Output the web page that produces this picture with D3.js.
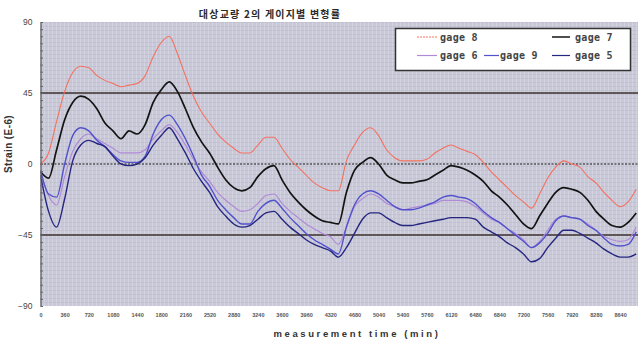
<!DOCTYPE html>
<html>
<head>
<meta charset="utf-8">
<script src="https://cdn.jsdelivr.net/npm/d3@7/dist/d3.min.js"></script>
<style>
  html, body { margin: 0; padding: 0; background: #fff; }
  svg { display: block; }
</style>
</head>
<body>
<div id="chart"></div>
<script>
// Strain readings every 120 minutes for the five gauges
const minutes = d3.range(0, 8881, 120);

const gage8 = [0, 7, 27, 46, 58, 62, 61, 56, 53, 51, 49, 50, 51, 56, 68, 77, 81, 70, 56, 43,
  33, 26, 19, 14, 10, 7, 7, 12, 17, 17, 10, 3, -2, -7, -12, -15, -17, -17, 2, 12,
  20, 23, 18, 9, 4, 2, 2, 2, 3, 7, 10, 12, 10, 8, 6, 1, -5, -10, -15, -20,
  -24, -28, -19, -9, -2, 2, 0, -2, -8, -12, -18, -23, -27, -24, -16];

const gage7 = [-5, -9, 9, 28, 39, 43, 41, 35, 26, 21, 16, 21, 19, 25, 39, 47, 52, 46, 35, 23,
  14, 7, -2, -10, -15, -17, -15, -8, -3, -1, -10, -18, -24, -29, -33, -36, -37, -38, -18, -4,
  1, 4, 0, -7, -10, -12, -12, -11, -10, -7, -4, -1, -2, -4, -7, -11, -17, -21, -26, -32,
  -38, -41, -33, -25, -18, -15, -16, -18, -23, -30, -35, -39, -40, -37, -31];

const gage6 = [-5, -20, -26, -8, 8, 16, 19, 16, 13, 10, 7, 7, 7, 9, 16, 21, 25, 20, 12, 3,
  -5, -11, -18, -23, -27, -30, -29, -25, -20, -19, -25, -30, -34, -38, -41, -44, -46, -51, -40, -27,
  -22, -19, -21, -25, -27, -29, -28, -27, -26, -25, -23, -23, -23, -24, -27, -31, -35, -37, -41, -44,
  -48, -53, -49, -42, -35, -33, -34, -35, -38, -42, -46, -48, -49, -48, -40];

const gage9 = [-4, -19, -21, 0, 18, 23, 21, 15, 11, 6, 2, 1, 1, 5, 19, 28, 31, 25, 16, 5,
  -7, -14, -23, -29, -34, -38, -38, -30, -25, -23, -28, -34, -39, -44, -48, -51, -54, -57, -40, -26,
  -19, -17, -19, -23, -27, -29, -29, -28, -26, -24, -21, -20, -21, -22, -25, -30, -34, -37, -41, -45,
  -49, -53, -50, -44, -36, -33, -34, -35, -39, -42, -47, -51, -52, -51, -43];

const gage5 = [-7, -30, -40, -22, 2, 12, 15, 13, 11, 5, 0, -1, 0, 4, 12, 18, 23, 16, 7, -3,
  -11, -18, -27, -33, -38, -40, -39, -35, -31, -30, -35, -40, -44, -48, -51, -53, -55, -59, -53, -44,
  -35, -31, -31, -34, -37, -39, -39, -38, -37, -36, -35, -34, -34, -34, -35, -40, -43, -46, -50, -53,
  -57, -62, -60, -53, -47, -42, -42, -44, -47, -50, -54, -57, -59, -59, -57];

const seriesNames = ["gage 8", "gage 7", "gage 6", "gage 9", "gage 5"];
const seriesColors = ["#f4715f", "#141414", "#b08ad6", "#5252cc", "#262680"];
const seriesWidths = [1.1, 1.7, 1.2, 1.4, 1.4];
const seriesValues = [gage8, gage7, gage6, gage9, gage5];

const xTickLabels = d3.range(0, 8641, 360);
const yTickLabels = [-90, -45, 0, 45, 90];
const refLevels = [45, 0, -45];

const titleText = "대상교량 2의 게이지별 변형률";
const xTitle = "measurement time (min)";
const yTitle = "Strain (E-6)";

const W = 638, H = 341;
const plot = { left: 40.5, right: 638, top: 22, bottom: 306 };

const svg = d3.select("#chart").append("svg")
  .attr("width", W).attr("height", H);

const x = d3.scaleLinear().domain([0, 8907]).range([plot.left, plot.right]);
const y = d3.scaleLinear().domain([-90, 90]).range([plot.bottom, plot.top]);

// Plot background with a fine woven texture
const defs = svg.append("defs");
const pat = defs.append("pattern")
  .attr("id", "weave").attr("patternUnits", "userSpaceOnUse")
  .attr("width", 4).attr("height", 4);
pat.append("rect").attr("width", 4).attr("height", 4).attr("fill", "#c8c8d9");
pat.append("rect").attr("x", 0).attr("y", 0).attr("width", 1).attr("height", 4)
  .attr("fill", "#d8d8e4").attr("opacity", 0.8);
pat.append("rect").attr("x", 0).attr("y", 2).attr("width", 4).attr("height", 1)
  .attr("fill", "#bcbccd").attr("opacity", 0.6);

defs.append("clipPath").attr("id", "plotClip")
  .append("rect")
  .attr("x", plot.left).attr("y", plot.top - 2)
  .attr("width", plot.right - plot.left).attr("height", plot.bottom - plot.top + 4);

svg.append("rect")
  .attr("x", plot.left).attr("y", plot.top)
  .attr("width", plot.right - plot.left).attr("height", plot.bottom - plot.top)
  .attr("fill", "url(#weave)");

// Reference lines at +45, 0, -45
svg.append("g").selectAll("line")
  .data(refLevels).join("line")
  .attr("x1", plot.left).attr("x2", plot.right)
  .attr("y1", d => y(d)).attr("y2", d => y(d))
  .attr("stroke", d => d === 0 ? "#1a1a1a" : "#3b302c")
  .attr("stroke-width", d => d === 0 ? 1.2 : 1.3)
  .attr("stroke-dasharray", d => d === 0 ? "2,1.5" : null);

// Series lines
const line = d3.line()
  .x((d, i) => x(minutes[i]))
  .y(d => y(d))
  .curve(d3.curveMonotoneX);

svg.append("g").attr("clip-path", "url(#plotClip)")
  .selectAll("path")
  .data(seriesValues).join("path")
  .attr("d", d => line(d))
  .attr("fill", "none")
  .attr("stroke", (d, i) => seriesColors[i])
  .attr("stroke-width", (d, i) => seriesWidths[i])
  .attr("stroke-linejoin", "round");

// Y axis: labels and inward minor ticks
const yAxis = svg.append("g")
  .attr("transform", `translate(${plot.left},0)`)
  .call(d3.axisLeft(y).tickValues(yTickLabels).tickSize(0).tickPadding(8));
yAxis.select(".domain").attr("stroke", "#555").attr("stroke-width", 1.2);
yAxis.selectAll("text")
  .attr("font-family", "Arial, 'Liberation Sans', sans-serif")
  .attr("font-size", 8.5).attr("fill", "#444");

svg.append("g")
  .attr("transform", `translate(${plot.left},0)`)
  .call(d3.axisRight(y).tickValues(d3.range(-90, 90.01, 4.5)).tickSize(2.5).tickFormat(""))
  .call(g => g.select(".domain").remove())
  .selectAll("line").attr("stroke", "#666");

// X axis labels
const xAxis = svg.append("g")
  .attr("transform", `translate(0,${plot.bottom + 5})`)
  .call(d3.axisBottom(x).tickValues(xTickLabels).tickSize(0).tickPadding(2)
    .tickFormat(d3.format("d")));
xAxis.select(".domain").remove();
xAxis.selectAll("text")
  .attr("font-family", "Arial, 'Liberation Sans', sans-serif")
  .attr("font-size", 5.5).attr("font-weight", "bold").attr("fill", "#555");

// Titles
svg.append("text")
  .attr("x", 270).attr("y", 18)
  .attr("text-anchor", "middle")
  .attr("font-family", "'Noto Sans CJK KR', sans-serif")
  .attr("font-size", 10).attr("font-weight", "bold")
  .attr("letter-spacing", 1.2)
  .attr("fill", "#2a2a2a")
  .text(titleText);

svg.append("text")
  .attr("x", 357).attr("y", 337)
  .attr("text-anchor", "middle")
  .attr("font-family", "Arial, 'Liberation Sans', sans-serif")
  .attr("font-size", 9.5).attr("font-weight", "bold")
  .attr("letter-spacing", 2.6)
  .attr("fill", "#333")
  .text(xTitle);

svg.append("text")
  .attr("transform", "translate(12,144) rotate(-90)")
  .attr("text-anchor", "middle")
  .attr("font-family", "Arial, 'Liberation Sans', sans-serif")
  .attr("font-size", 10).attr("font-weight", "bold")
  .attr("letter-spacing", 0.4)
  .attr("fill", "#333")
  .text(yTitle);

// Legend
const legend = svg.append("g");
legend.append("rect")
  .attr("x", 395.5).attr("y", 28.5).attr("width", 235).attr("height", 42)
  .attr("fill", "#fff").attr("stroke", "#333").attr("stroke-width", 1.5);

const legendPos = [
  { lx: 417, ly: 37, tx: 440 },
  { lx: 552, ly: 37, tx: 575 },
  { lx: 417, ly: 55.5, tx: 440 },
  { lx: 484, ly: 55.5, tx: 500 },
  { lx: 552, ly: 55.5, tx: 575 }
];
const legendLen = [20, 18, 20, 15, 18];

const items = legend.selectAll("g.item")
  .data(seriesNames).join("g").attr("class", "item");
items.append("line")
  .attr("x1", (d, i) => legendPos[i].lx)
  .attr("x2", (d, i) => legendPos[i].lx + legendLen[i])
  .attr("y1", (d, i) => legendPos[i].ly).attr("y2", (d, i) => legendPos[i].ly)
  .attr("stroke", (d, i) => seriesColors[i])
  .attr("stroke-width", (d, i) => i === 1 ? 1.5 : 1.2)
  .attr("stroke-dasharray", (d, i) => i === 0 ? "2,1" : null);
items.append("text")
  .attr("x", (d, i) => legendPos[i].tx)
  .attr("y", (d, i) => legendPos[i].ly + 3.5)
  .attr("font-family", "'DejaVu Sans Mono', monospace")
  .attr("font-size", 10).attr("font-weight", "bold")
  .attr("letter-spacing", 0.3)
  .attr("fill", "#444")
  .text(d => d);
</script>
</body>
</html>
